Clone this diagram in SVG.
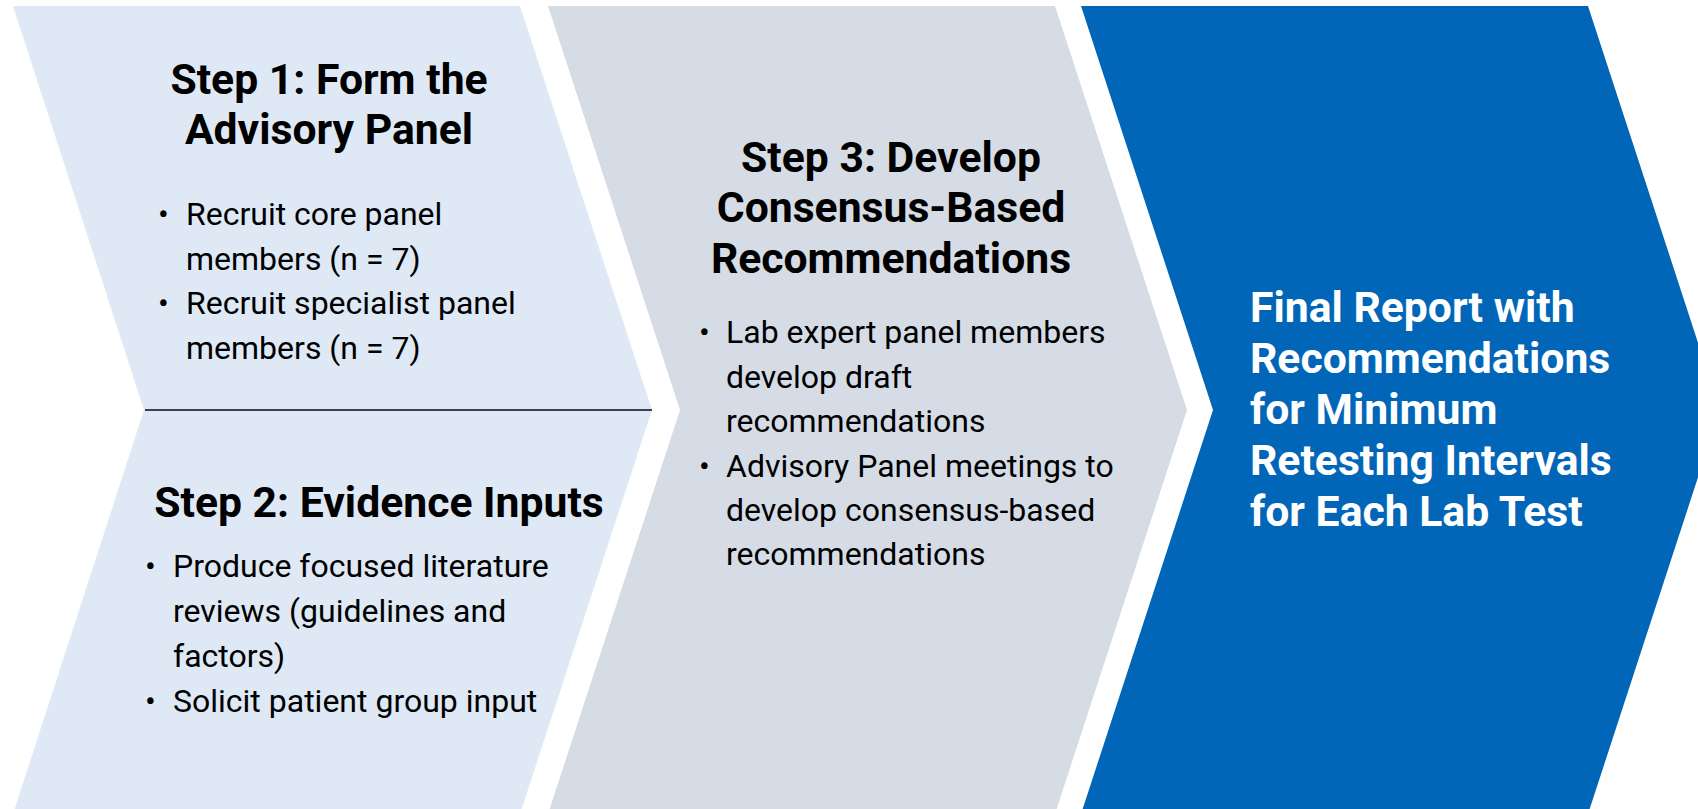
<svg xmlns="http://www.w3.org/2000/svg" width="1698" height="809" viewBox="0 0 1698 809">
<style>
.h{font-family:Roboto,"Liberation Sans",sans-serif;font-weight:700;font-size:42.7px;fill:#000}
.hw{font-family:Roboto,"Liberation Sans",sans-serif;font-weight:700;font-size:42.7px;fill:#fff}
.b{font-family:Roboto,"Liberation Sans",sans-serif;font-weight:400;font-size:32px;fill:#000}
.d{font-family:Roboto,"Liberation Sans",sans-serif;font-weight:400;font-size:26px;fill:#000}
</style>
<rect width="1698" height="809" fill="#fff"/>
<g id="step1-2">
<polygon points="13,6 520,6 652,410 520,814 13,814 144,410" fill="#DEE9F5"/>
<text class="h" x="329" y="94" text-anchor="middle">Step 1: Form the</text>
<text class="h" x="329" y="144" text-anchor="middle">Advisory Panel</text>
<text class="b" x="158" y="225">•</text>
<text class="b" x="186" y="225">Recruit core panel</text>
<text class="b" x="186" y="270">members (n = 7)</text>
<text class="b" x="158" y="314">•</text>
<text class="b" x="186" y="314">Recruit specialist panel</text>
<text class="b" x="186" y="359">members (n = 7)</text>
<text class="h" x="379" y="517" text-anchor="middle">Step 2: Evidence Inputs</text>
<text class="b" x="145" y="577">•</text>
<text class="b" x="173" y="577">Produce focused literature</text>
<text class="b" x="173" y="622">reviews (guidelines and</text>
<text class="b" x="173" y="667">factors)</text>
<text class="b" x="145" y="712">•</text>
<text class="b" x="173" y="712">Solicit patient group input</text>
</g>
<g id="step3">
<polygon points="548,6 1055,6 1187,410 1055,814 548,814 680,410" fill="#D5DCE6"/>
<text class="h" x="891" y="172" text-anchor="middle">Step 3: Develop</text>
<text class="h" x="891" y="222" text-anchor="middle">Consensus-Based</text>
<text class="h" x="891" y="273" text-anchor="middle">Recommendations</text>
<text class="b" x="699" y="343">•</text>
<text class="b" x="726" y="343">Lab expert panel members</text>
<text class="b" x="726" y="388">develop draft</text>
<text class="b" x="726" y="432">recommendations</text>
<text class="b" x="699" y="477">•</text>
<text class="b" x="726" y="477">Advisory Panel meetings to</text>
<text class="b" x="726" y="521">develop consensus-based</text>
<text class="b" x="726" y="565">recommendations</text>
</g>
<g id="final">
<polygon points="1081,6 1588,6 1720,410 1588,814 1081,814 1213,410" fill="#0266B8"/>
<text class="hw" x="1250" y="322">Final Report with</text>
<text class="hw" x="1250" y="373">Recommendations</text>
<text class="hw" x="1250" y="424">for Minimum</text>
<text class="hw" x="1250" y="475">Retesting Intervals</text>
<text class="hw" x="1250" y="526">for Each Lab Test</text>
</g>
<g id="connectors">
<line x1="145" y1="410" x2="652" y2="410" stroke="#3B4150" stroke-width="2"/>
</g>
</svg>
